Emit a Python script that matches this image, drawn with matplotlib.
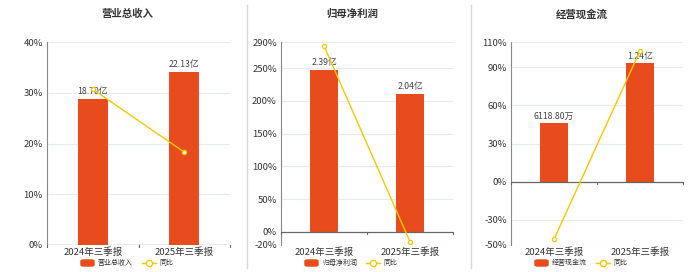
import matplotlib
matplotlib.use("Agg")
import matplotlib.pyplot as plt
from matplotlib.patches import FancyBboxPatch
from matplotlib.lines import Line2D

plt.rcParams['font.family'] = ['Noto Sans CJK SC', 'DejaVu Sans']

categories = ["2024年三季报", "2025年三季报"]

titles = ["营业总收入", "归母净利润", "经营现金流"]
bar_names = ["营业总收入", "归母净利润", "经营现金流"]
# bar values (亿)
rev_values = [18.70, 22.13]
profit_values = [2.39, 2.04]
cash_values = [0.611880, 1.24]
rev_labels = ["18.70亿", "22.13亿"]
profit_labels = ["2.39亿", "2.04亿"]
cash_labels = ["6118.80万", "1.24亿"]
# YoY (%)
rev_yoy = [30.7, 18.3]
profit_yoy = [284.0, -15.0]
cash_yoy = [-45.5, 103.0]

W, H = 700, 272
fig = plt.figure(figsize=(7.0, 2.72), dpi=100)

BAR = "#E84C1C"
LINE = "#F5C800"
GRID = "#E6EAF4"
TXT = "#333333"

panels = [
    dict(ax=(47, 42, 230, 245), title_x=127, vals=rev_values, labels=rev_labels, yoy=rev_yoy,
         ylim=(0, 40), ticks=[0, 10, 20, 30, 40], bar_top_pct=34.1, leg_x=81),
    dict(ax=(281, 42, 453, 245), title_x=352, vals=profit_values, labels=profit_labels, yoy=profit_yoy,
         ylim=(-20, 290), ticks=[-20, 0, 50, 100, 150, 200, 250, 290], bar_top_pct=247.0, leg_x=305),
    dict(ax=(511, 42, 683, 245), title_x=582, vals=cash_values, labels=cash_labels, yoy=cash_yoy,
         ylim=(-50, 110), ticks=[-50, -30, 0, 30, 60, 90, 110], bar_top_pct=93.4, leg_x=535),
]

for i, p in enumerate(panels):
    x0, y0, x1, y1 = p["ax"]
    rect = [x0 / W, 1 - y1 / H, (x1 - x0) / W, (y1 - y0) / H]
    lo, hi = p["ylim"]

    # base axis: grid, ticks, spines
    ax = fig.add_axes(rect, zorder=1)
    ax.set_ylim(lo, hi)
    ax.set_xlim(-0.5, 1.5)
    for t in p["ticks"]:
        if t != 0:
            ax.axhline(t, color=GRID, lw=0.8, zorder=0)
    ax.set_yticks(p["ticks"])
    ax.set_yticklabels([f"{t}%" for t in p["ticks"]], fontsize=6.8, color=TXT)
    ax.tick_params(axis="y", length=0, pad=3)
    ax.set_xticks([0, 1])
    ax.set_xticklabels(categories, fontsize=6.8, color=TXT)
    ax.tick_params(axis="x", length=0, pad=2)
    for name in ["top", "right", "bottom"]:
        ax.spines[name].set_visible(False)
    ax.spines["left"].set_color("#888888")
    ax.spines["left"].set_linewidth(0.8)

    # bar axis, 0 aligned with 0%
    bmax = max(p["vals"]) * hi / p["bar_top_pct"]
    bx = fig.add_axes(rect, zorder=2)
    bx.set_xlim(-0.5, 1.5)
    bx.set_ylim(bmax * lo / hi, bmax)
    bx.axis("off")
    for k, v in enumerate(p["vals"]):
        bx.bar(k, v, width=0.33, color=BAR, zorder=2)
        bx.text(k, v + bmax * 0.015, p["labels"][k], ha="center", va="bottom",
                fontsize=6.3, color="#444444", zorder=5)

    # top axis: zero line and yoy line
    lx_ax = fig.add_axes(rect, zorder=3)
    lx_ax.set_xlim(-0.5, 1.5)
    lx_ax.set_ylim(lo, hi)
    lx_ax.axis("off")
    lx_ax.axhline(0, color="#666666", lw=0.9, zorder=3)
    for xb in [-0.5, 0.5, 1.5]:
        lx_ax.plot([xb, xb], [0, -(hi - lo) * 0.012], color="#666666", lw=0.8,
                   clip_on=False, zorder=3)
    lx_ax.plot(range(len(categories)), p["yoy"], color=LINE, lw=1.0, marker="o", ms=3,
               mfc="white", mec=LINE, mew=0.9, zorder=6, clip_on=False)

    fig.text(p["title_x"] / W, 1 - 14 / H, titles[i], ha="center", va="center",
             fontsize=7.5, fontweight="bold", color=TXT)
    # legend
    lx = p["leg_x"]
    fig.patches.append(FancyBboxPatch((lx / W, 1 - 266 / H), 13 / W, 6 / H,
                                      boxstyle="round,pad=0,rounding_size=0.004",
                                      transform=fig.transFigure, color=BAR))
    fig.text((lx + 17) / W, 1 - 263 / H, bar_names[i], ha="left", va="center",
             fontsize=5.0, color=TXT)
    llx = lx + 61
    fig.lines.append(Line2D([llx / W, (llx + 14) / W], [1 - 263 / H] * 2, color=LINE, lw=1.0,
                            transform=fig.transFigure))
    fig.lines.append(Line2D([(llx + 7) / W], [1 - 263 / H], color=LINE, marker="o", ms=4.5,
                            mfc="white", mew=1.0, transform=fig.transFigure))
    fig.text((llx + 17) / W, 1 - 263 / H, "同比", ha="left", va="center", fontsize=5.0, color=TXT)

# separators
for sx in [247, 471]:
    fig.lines.append(Line2D([sx / W] * 2, [1 - 268 / H, 1 - 5 / H], color="#D8D8D8", lw=1.0,
                            transform=fig.transFigure))

fig.savefig("out.png", dpi=100)
